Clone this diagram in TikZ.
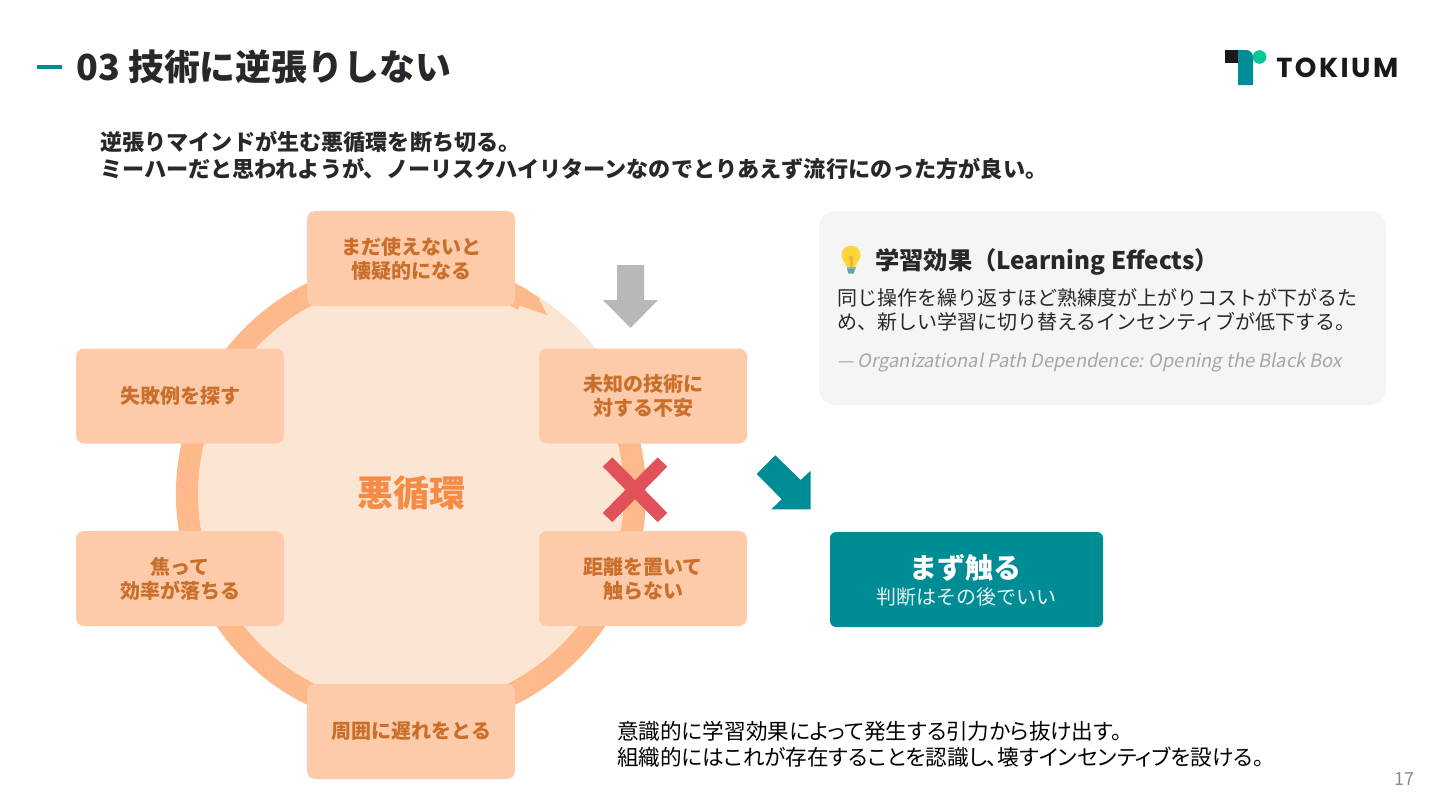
\documentclass[tikz,border=0pt]{standalone}
\usepackage{fontspec}
\setmainfont{Noto Sans CJK JP}
\newfontfamily\citefont[FakeSlant=0.2]{Noto Sans CJK JP}
\newfontfamily\notefont[RawFeature=+palt]{Noto Sans CJK JP}
\newfontfamily\logofont[LetterSpace=9]{Poppins}
\definecolor{teal1}{HTML}{008C95}
\definecolor{ink}{HTML}{26282C}
\definecolor{boxfill}{HTML}{FDCBA9}
\definecolor{boxtext}{HTML}{C96F2B}
\definecolor{ringc}{HTML}{FDB98A}
\definecolor{discc}{HTML}{FDE5D4}
\definecolor{cardc}{HTML}{F5F5F5}
\definecolor{logogreen}{HTML}{00C896}
\definecolor{crossred}{HTML}{E2505A}
\definecolor{centertext}{HTML}{F58B45}
\definecolor{bulby}{HTML}{FBD63A}
\definecolor{bulbo}{HTML}{F2B530}
\definecolor{bulbb}{HTML}{5E9FB0}
\definecolor{bulbg}{HTML}{8FBF9A}
\newcommand{\fsz}[2]{\fontsize{#1}{#2}\selectfont}
\tikzset{
  cyclebox/.style={draw=none,fill=boxfill,rounded corners=6pt,minimum width=156pt,minimum height=71.25pt,inner sep=0pt,
    align=center,text=boxtext,font=\fsz{15pt}{18pt}\bfseries},
  txt/.style={inner sep=0pt,anchor=west,align=left},
}
\begin{document}
\begin{tikzpicture}[x=0.75pt,y=-0.75pt]
\useasboundingbox (0,0) rectangle (1440,810);
\fill[white] (0,0) rectangle (1440,810);
% header
\draw[teal1,line width=2.4pt] (37,67) -- (62,67);
\node[txt,text=ink,font=\fsz{26.9pt}{30pt}\bfseries] (title) at (76,67) {03 技術に逆張りしない};
% logo
\fill[teal1] (1238,85) -- (1238,50) -- (1246,50) .. controls (1250,50) and (1253,53) .. (1253,57) -- (1253,85) -- cycle;
\fill[black!90] (1225,50) rectangle (1238,63);
\fill[logogreen] (1259.5,57) circle[radius=6.8];
\node[txt,text=black!90,font=\logofont\fsz{20.6pt}{24pt}\bfseries] (logo) at (1276,68) {TOKIUM};
% lead
\node[txt,text=ink,font=\fsz{16.6pt}{20pt}\bfseries] (lead) at (100,155.5) {逆張りマインドが生む悪循環を断ち切る。\\ミーハーだと思われようが、ノーリスクハイリターンなのでとりあえず流行にのった方が良い。};
% cycle
\fill[discc] (411,494) circle[radius=235];
\draw[ringc,line width=16.5pt] (411,494) ++(20:168pt) arc[start angle=20,end angle=-300,radius=168pt];
\fill[ringc] (515,283) -- (538,297) -- (547,315) -- (512,303) -- cycle;
\node[text=centertext,font=\fsz{27pt}{30pt}\bfseries] (center) at (411,493) {悪循環};
\node[cyclebox] (b1) at (411,258.5) {まだ使えないと\\懐疑的になる};
\node[cyclebox] (b2) at (643,396) {未知の技術に\\対する不安};
\node[cyclebox] (b3) at (643,578.5) {距離を置いて\\触らない};
\node[cyclebox] (b4) at (411,731.5) {周囲に遅れをとる};
\node[cyclebox] (b5) at (180,578.5) {焦って\\効率が落ちる};
\node[cyclebox] (b6) at (180,396) {失敗例を探す};
% gray arrow
\fill[black!28] (617,265) -- (644,265) -- (644,300) -- (658,300) -- (630.5,328) -- (603,300) -- (617,300) -- cycle;
% red cross
\draw[crossred,line width=10pt] (607.5,462) -- (662.5,517.5);
\draw[crossred,line width=10pt] (662.5,462) -- (607.5,517.5);
% teal arrow
\fill[teal1] (756.7,474) -- (775.3,455.3) -- (800.7,480) -- (810.7,470.7) -- (810.7,509.3) -- (771.3,509.3) -- (781.7,499.3) -- cycle;
% card
\fill[cardc,rounded corners=12pt] (819,211) rectangle (1386,405);
% bulb
\fill[bulby] (851,255) circle[radius=9.5];
\fill[bulby] (843.5,261) -- (858.5,261) -- (855,267) -- (847,267) -- cycle;
\fill[bulbo] (851,258) circle[radius=2.5];
\fill[bulbo] (849.5,259) rectangle (852.5,267);
\fill[bulbg] (846.5,267) rectangle (855.5,269);
\fill[bulbb] (847,269) -- (855,269) -- (853.5,273.5) -- (848.5,273.5) -- cycle;
\node[txt,text=ink,font=\fsz{18.2pt}{22pt}\bfseries] (cardtitle) at (875,261.5) {学習効果（Learning Effects）};
\node[txt,text=ink,font=\fsz{15pt}{18pt}] (cardbody) at (837,310) {同じ操作を繰り返すほど熟練度が上がりコストが下がるた\\め、新しい学習に切り替えるインセンティブが低下する。};
\node[txt,text=black!35,font=\citefont\fsz{13.8pt}{16pt}] (cardcite) at (837,362.5) {— Organizational Path Dependence: Opening the Black Box};
% teal box
\fill[teal1,rounded corners=4.5pt] (830,532) rectangle (1103,627);
\node[text=white,inner sep=0pt,font=\fsz{21pt}{25pt}\bfseries] (cta) at (965,568) {まず触る};
\node[text=white!90!teal1,inner sep=0pt,font=\fsz{15pt}{18pt}] (ctasub) at (966,597) {判断はその後でいい};
% note
\node[txt,text=black,font=\notefont\fsz{16.2pt}{19.5pt}] (note) at (617,744.5) {意識的に学習効果によって発生する引力から抜け出す。\\組織的にはこれが存在することを認識し、壊すインセンティブを設ける。};
\node[inner sep=0pt,text=black!45,font=\fsz{13.5pt}{16pt}] (page) at (1404,779) {17};
\end{tikzpicture}
\end{document}
